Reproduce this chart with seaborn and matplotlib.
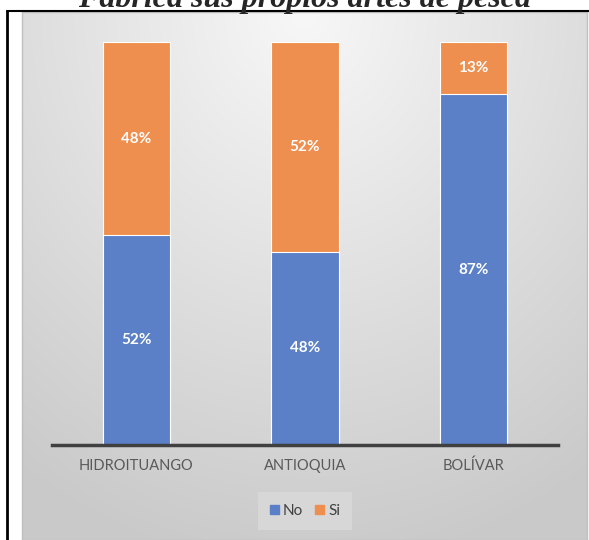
import numpy as np
import pandas as pd
import matplotlib
matplotlib.use("Agg")
import matplotlib.pyplot as plt
from matplotlib.patches import Rectangle
import seaborn as sns

# === DATA ===
categories = ["HIDROITUANGO", "ANTIOQUIA", "BOLÍVAR"]
no_pct = [52, 48, 87]
si_pct = [48, 52, 13]
title = "Fabrica sus propios artes de pesca"

blue = "#5b80c7"
orange = "#ee8f4f"

sns.set_theme(style="white")
plt.rcParams["font.family"] = ["Lato", "DejaVu Sans"]

W, H = 589, 540
fig = plt.figure(figsize=(W / 100, H / 100), dpi=100)
fig.patch.set_facecolor("white")

# === BACKGROUND PANEL (gradient) ===
px0, px1, py0, py1 = 22, 587, 12, 540
bg = fig.add_axes([px0 / W, 1 - py1 / H, (px1 - px0) / W, (py1 - py0) / H])
yy, xx = np.mgrid[0:1:200j, 0:1:200j]
dist = np.sqrt(((xx - 0.5) * 1.2) ** 2 + (yy * 1.0) ** 2)
grad = np.clip(0.97 - 0.17 * dist, 0.79, 0.975)
bg.imshow(np.dstack([grad, grad, grad]), aspect="auto", extent=(0, 1, 1, 0))
bg.set_xticks([])
bg.set_yticks([])
for s in bg.spines.values():
    s.set_color("#bfbfbf")
    s.set_linewidth(1)

# border lines of the surrounding table
fig.add_artist(plt.Line2D([7 / W, 7 / W], [0, 1 - 11 / H], color="black", lw=2))
fig.add_artist(plt.Line2D([7 / W, 1], [1 - 11 / H, 1 - 11 / H], color="black", lw=1.5))
fig.text(305 / W, 1 - 7 / H, title, ha="center", va="baseline",
         family="Liberation Serif", fontweight="bold", fontstyle="italic", fontsize=23)

# === MAIN AXES ===
ax = fig.add_axes([52 / W, 1 - 445 / H, (558 - 52) / W, (445 - 42) / H])
ax.patch.set_alpha(0)

df = pd.DataFrame({"cat": categories, "No": no_pct, "Si": si_pct})
df["total"] = df["No"] + df["Si"]

sns.barplot(data=df, x="cat", y="total", color=orange, width=0.4, saturation=1,
            edgecolor="white", linewidth=0.8, ax=ax)
sns.barplot(data=df, x="cat", y="No", color=blue, width=0.4, saturation=1,
            edgecolor="white", linewidth=0.8, ax=ax)

ax.set_xlim(-0.5, 2.5)
ax.set_ylim(0, 100)
ax.set_xlabel("")
ax.set_ylabel("")
ax.set_yticks([])
ax.tick_params(axis="x", length=0, pad=10, labelsize=10.5, labelcolor="#595959")
for s in ["top", "right", "left"]:
    ax.spines[s].set_visible(False)
ax.spines["bottom"].set_color("#404040")
ax.spines["bottom"].set_linewidth(2.5)

for i, row in df.iterrows():
    ax.text(i, row["No"] / 2, f"{row['No']}%", ha="center", va="center",
            color="white", fontweight="bold", fontsize=11)
    ax.text(i, row["No"] + row["Si"] / 2, f"{row['Si']}%", ha="center", va="center",
            color="white", fontweight="bold", fontsize=11)

handles = [Rectangle((0, 0), 1, 1, color=blue), Rectangle((0, 0), 1, 1, color=orange)]
leg = fig.legend(handles, ["No", "Si"], loc="center", bbox_to_anchor=(305 / W, 1 - 511 / H),
                 ncol=2, frameon=True, fontsize=11, handlelength=0.6, handleheight=0.6,
                 handletextpad=0.25, columnspacing=0.8, borderpad=0.8, fancybox=False)
leg.get_frame().set_facecolor("#dadada")
leg.get_frame().set_edgecolor("none")
for t in leg.get_texts():
    t.set_color("#404040")

fig.savefig("out.png", dpi=100)
